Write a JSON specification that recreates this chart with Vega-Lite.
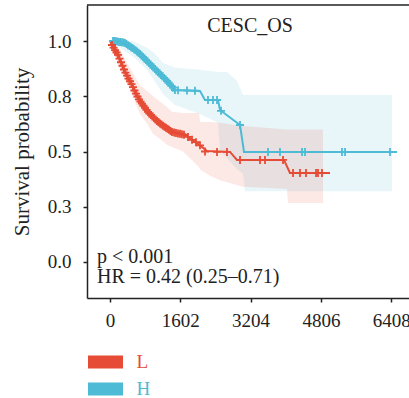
{
  "$schema": "https://vega.github.io/schema/vega-lite/v6.json",
  "width": 322,
  "height": 293,
  "autosize": {"type": "none"},
  "padding": {"left": 87, "top": 5, "right": 0, "bottom": 100},
  "background": "white",
  "config": {
    "font": "Liberation Serif",
    "view": {"stroke": null},
    "axis": {
      "domainColor": "#222", "domainWidth": 1.5, "tickColor": "#222", "tickWidth": 1.5, "tickSize": 4,
      "labelFont": "Liberation Serif", "labelFontSize": 19, "labelColor": "#222",
      "titleFont": "Liberation Serif", "titleFontSize": 21, "titleFontWeight": "normal", "titleColor": "#222",
      "grid": false
    }
  },
  "datasets": {
    "band": [
      {"g": "H", "t": 0, "s": 1, "s2": 1},
      {"g": "H", "t": 524, "s": 0.93, "s2": 1},
      {"g": "H", "t": 843, "s": 0.87, "s2": 0.97},
      {"g": "H", "t": 980, "s": 0.83, "s2": 0.95},
      {"g": "H", "t": 1208, "s": 0.76, "s2": 0.9},
      {"g": "H", "t": 1481, "s": 0.71, "s2": 0.88},
      {"g": "H", "t": 2051, "s": 0.67, "s2": 0.87},
      {"g": "H", "t": 2461, "s": 0.63, "s2": 0.86},
      {"g": "H", "t": 2507, "s": 0.5, "s2": 0.86},
      {"g": "H", "t": 2666, "s": 0.47, "s2": 0.86},
      {"g": "H", "t": 2894, "s": 0.42, "s2": 0.82},
      {"g": "H", "t": 3031, "s": 0.4, "s2": 0.756},
      {"g": "H", "t": 3077, "s": 0.32, "s2": 0.756},
      {"g": "H", "t": 6427, "s": 0.32, "s2": 0.756},
      {"g": "L", "t": 0, "s": 1, "s2": 1},
      {"g": "L", "t": 228, "s": 0.87, "s2": 0.96},
      {"g": "L", "t": 387, "s": 0.81, "s2": 0.9},
      {"g": "L", "t": 684, "s": 0.67, "s2": 0.8},
      {"g": "L", "t": 866, "s": 0.62, "s2": 0.77},
      {"g": "L", "t": 980, "s": 0.58, "s2": 0.75},
      {"g": "L", "t": 1185, "s": 0.55, "s2": 0.72},
      {"g": "L", "t": 1299, "s": 0.53, "s2": 0.7},
      {"g": "L", "t": 1413, "s": 0.52, "s2": 0.68},
      {"g": "L", "t": 1664, "s": 0.5, "s2": 0.674},
      {"g": "L", "t": 1823, "s": 0.47, "s2": 0.674},
      {"g": "L", "t": 2028, "s": 0.43, "s2": 0.674},
      {"g": "L", "t": 2051, "s": 0.42, "s2": 0.633},
      {"g": "L", "t": 2279, "s": 0.39, "s2": 0.633},
      {"g": "L", "t": 2507, "s": 0.37, "s2": 0.63},
      {"g": "L", "t": 3031, "s": 0.34, "s2": 0.615},
      {"g": "L", "t": 4034, "s": 0.33, "s2": 0.6},
      {"g": "L", "t": 4057, "s": 0.267, "s2": 0.6},
      {"g": "L", "t": 4854, "s": 0.267, "s2": 0.6}
    ],
    "curve": [
      {"g": "L", "t": 0, "s": 1.0},
      {"g": "L", "t": 46, "s": 0.982},
      {"g": "L", "t": 182, "s": 0.937},
      {"g": "L", "t": 342, "s": 0.86},
      {"g": "L", "t": 501, "s": 0.801},
      {"g": "L", "t": 638, "s": 0.742},
      {"g": "L", "t": 866, "s": 0.679},
      {"g": "L", "t": 1094, "s": 0.633},
      {"g": "L", "t": 1413, "s": 0.588},
      {"g": "L", "t": 1709, "s": 0.575},
      {"g": "L", "t": 1983, "s": 0.538},
      {"g": "L", "t": 2211, "s": 0.502},
      {"g": "L", "t": 2735, "s": 0.498},
      {"g": "L", "t": 2894, "s": 0.462},
      {"g": "L", "t": 3965, "s": 0.462},
      {"g": "L", "t": 4102, "s": 0.403},
      {"g": "L", "t": 5014, "s": 0.403},
      {"g": "H", "t": 0, "s": 1.0},
      {"g": "H", "t": 114, "s": 1.0},
      {"g": "H", "t": 342, "s": 0.991},
      {"g": "H", "t": 638, "s": 0.95},
      {"g": "H", "t": 866, "s": 0.905},
      {"g": "H", "t": 1094, "s": 0.86},
      {"g": "H", "t": 1322, "s": 0.814},
      {"g": "H", "t": 1481, "s": 0.778},
      {"g": "H", "t": 2051, "s": 0.774},
      {"g": "H", "t": 2165, "s": 0.733},
      {"g": "H", "t": 2461, "s": 0.733},
      {"g": "H", "t": 2507, "s": 0.688},
      {"g": "H", "t": 2963, "s": 0.62},
      {"g": "H", "t": 3054, "s": 0.498},
      {"g": "H", "t": 6541, "s": 0.498}
    ],
    "censor": [
      {"g": "H", "t": 68, "s": 1.0}, {"g": "H", "t": 103, "s": 1.0}, {"g": "H", "t": 137, "s": 0.999}, {"g": "H", "t": 171, "s": 0.998}, {"g": "H", "t": 205, "s": 0.996},
      {"g": "H", "t": 239, "s": 0.995}, {"g": "H", "t": 273, "s": 0.994}, {"g": "H", "t": 308, "s": 0.993}, {"g": "H", "t": 342, "s": 0.991}, {"g": "H", "t": 376, "s": 0.986}, {"g": "H", "t": 410, "s": 0.981},
      {"g": "H", "t": 445, "s": 0.977}, {"g": "H", "t": 479, "s": 0.972}, {"g": "H", "t": 513, "s": 0.968}, {"g": "H", "t": 547, "s": 0.963}, {"g": "H", "t": 581, "s": 0.958}, {"g": "H", "t": 615, "s": 0.953},
      {"g": "H", "t": 650, "s": 0.947}, {"g": "H", "t": 684, "s": 0.941}, {"g": "H", "t": 718, "s": 0.935}, {"g": "H", "t": 752, "s": 0.928}, {"g": "H", "t": 786, "s": 0.921}, {"g": "H", "t": 820, "s": 0.914},
      {"g": "H", "t": 855, "s": 0.907}, {"g": "H", "t": 889, "s": 0.9}, {"g": "H", "t": 923, "s": 0.894}, {"g": "H", "t": 957, "s": 0.887}, {"g": "H", "t": 991, "s": 0.88}, {"g": "H", "t": 1026, "s": 0.873},
      {"g": "H", "t": 1060, "s": 0.867}, {"g": "H", "t": 1094, "s": 0.86}, {"g": "H", "t": 1128, "s": 0.853}, {"g": "H", "t": 1162, "s": 0.846}, {"g": "H", "t": 1197, "s": 0.84}, {"g": "H", "t": 1231, "s": 0.833},
      {"g": "H", "t": 1265, "s": 0.826}, {"g": "H", "t": 1299, "s": 0.819}, {"g": "H", "t": 1333, "s": 0.812}, {"g": "H", "t": 1367, "s": 0.804}, {"g": "H", "t": 1400, "s": 0.797}, {"g": "H", "t": 1436, "s": 0.789},
      {"g": "H", "t": 1481, "s": 0.778}, {"g": "H", "t": 1550, "s": 0.777}, {"g": "H", "t": 1755, "s": 0.776},
      {"g": "H", "t": 1937, "s": 0.775}, {"g": "H", "t": 2233, "s": 0.733}, {"g": "H", "t": 2347, "s": 0.733},
      {"g": "H", "t": 2439, "s": 0.733}, {"g": "H", "t": 2530, "s": 0.684}, {"g": "H", "t": 2963, "s": 0.62},
      {"g": "H", "t": 3601, "s": 0.498}, {"g": "H", "t": 3874, "s": 0.498}, {"g": "H", "t": 4376, "s": 0.498},
      {"g": "H", "t": 4444, "s": 0.498}, {"g": "H", "t": 5287, "s": 0.498}, {"g": "H", "t": 5356, "s": 0.498},
      {"g": "H", "t": 6381, "s": 0.498},
      {"g": "L", "t": 46, "s": 0.982}, {"g": "L", "t": 80, "s": 0.97}, {"g": "L", "t": 114, "s": 0.959}, {"g": "L", "t": 148, "s": 0.948}, {"g": "L", "t": 182, "s": 0.937},
      {"g": "L", "t": 216, "s": 0.92}, {"g": "L", "t": 251, "s": 0.904}, {"g": "L", "t": 285, "s": 0.888}, {"g": "L", "t": 319, "s": 0.871}, {"g": "L", "t": 353, "s": 0.857}, {"g": "L", "t": 387, "s": 0.843},
      {"g": "L", "t": 421, "s": 0.83}, {"g": "L", "t": 456, "s": 0.818}, {"g": "L", "t": 490, "s": 0.805}, {"g": "L", "t": 524, "s": 0.791}, {"g": "L", "t": 558, "s": 0.776}, {"g": "L", "t": 593, "s": 0.762},
      {"g": "L", "t": 627, "s": 0.749}, {"g": "L", "t": 661, "s": 0.736}, {"g": "L", "t": 695, "s": 0.726}, {"g": "L", "t": 729, "s": 0.717}, {"g": "L", "t": 763, "s": 0.707}, {"g": "L", "t": 798, "s": 0.698},
      {"g": "L", "t": 832, "s": 0.688}, {"g": "L", "t": 866, "s": 0.679}, {"g": "L", "t": 900, "s": 0.672}, {"g": "L", "t": 934, "s": 0.665}, {"g": "L", "t": 968, "s": 0.658}, {"g": "L", "t": 1003, "s": 0.652},
      {"g": "L", "t": 1037, "s": 0.645}, {"g": "L", "t": 1071, "s": 0.638}, {"g": "L", "t": 1105, "s": 0.632}, {"g": "L", "t": 1140, "s": 0.627}, {"g": "L", "t": 1174, "s": 0.622}, {"g": "L", "t": 1208, "s": 0.617},
      {"g": "L", "t": 1242, "s": 0.612}, {"g": "L", "t": 1276, "s": 0.608}, {"g": "L", "t": 1310, "s": 0.603}, {"g": "L", "t": 1345, "s": 0.598}, {"g": "L", "t": 1379, "s": 0.593}, {"g": "L", "t": 1413, "s": 0.588},
      {"g": "L", "t": 1460, "s": 0.586}, {"g": "L", "t": 1504, "s": 0.584}, {"g": "L", "t": 1550, "s": 0.582}, {"g": "L", "t": 1595, "s": 0.58}, {"g": "L", "t": 1640, "s": 0.578}, {"g": "L", "t": 1686, "s": 0.576},
      {"g": "L", "t": 1778, "s": 0.566}, {"g": "L", "t": 1869, "s": 0.553}, {"g": "L", "t": 1960, "s": 0.542},
      {"g": "L", "t": 2051, "s": 0.528}, {"g": "L", "t": 2165, "s": 0.5}, {"g": "L", "t": 2439, "s": 0.498},
      {"g": "L", "t": 2666, "s": 0.498}, {"g": "L", "t": 2963, "s": 0.462}, {"g": "L", "t": 3419, "s": 0.462},
      {"g": "L", "t": 3532, "s": 0.462}, {"g": "L", "t": 3943, "s": 0.462}, {"g": "L", "t": 4171, "s": 0.403},
      {"g": "L", "t": 4330, "s": 0.403}, {"g": "L", "t": 4467, "s": 0.403}, {"g": "L", "t": 4695, "s": 0.403},
      {"g": "L", "t": 4740, "s": 0.403}, {"g": "L", "t": 4831, "s": 0.403}
    ],
    "notesLeft": [
      {"t": -296, "s": -0.005, "label": "p < 0.001"},
      {"t": -296, "s": -0.095, "label": "HR = 0.42 (0.25–0.71)"}
    ],
    "notesTitle": [
      {"t": 3191, "s": 1.042, "label": "CESC_OS"}
    ],
    "border": [
      {"t": -524, "t2": 6814, "s": 1.163}
    ]
  },
  "encoding": {
    "x": {
      "field": "t", "type": "quantitative",
      "scale": {"domain": [-524, 6814], "nice": false, "zero": false},
      "axis": {"values": [0, 1602, 3204, 4806, 6408], "title": null, "labelPadding": 9, "format": "d"}
    },
    "y": {
      "field": "s", "type": "quantitative",
      "scale": {"domain": [-0.163, 1.163], "nice": false, "zero": false},
      "axis": {"values": [0, 0.25, 0.5, 0.75, 1], "format": ".1f", "title": "Survival probability", "labelPadding": 12, "titlePadding": 15}
    },
    "color": {
      "field": "g", "type": "nominal",
      "scale": {"domain": ["L", "H"], "range": ["#E64B35", "#4DBBD5"]},
      "legend": {
        "orient": "none", "legendX": 4.5, "legendY": 343, "title": null,
        "symbolType": "M-1.25,-0.464H1.25V0.464H-1.25Z", "symbolSize": 784, "symbolStrokeWidth": 0,
        "symbolOpacity": 1,
        "labelFont": "Liberation Serif", "labelFontSize": 19, "labelOffset": 17, "rowPadding": 3, "padding": 0,
        "encode": {
          "symbols": {"update": {"fill": {"scale": "color", "field": "value"}, "fillOpacity": {"value": 1}, "opacity": {"value": 1}, "stroke": {"value": "transparent"}, "strokeWidth": {"value": 0}}},
          "labels": {"update": {"fill": {"scale": "color", "field": "value"}}}
        }
      }
    }
  },
  "layer": [
    {
      "data": {"name": "band"},
      "mark": {"type": "area", "fillOpacity": 0.13},
      "encoding": {"y2": {"field": "s2"}}
    },
    {
      "data": {"name": "curve"},
      "mark": {"type": "line", "strokeWidth": 2}
    },
    {
      "data": {"name": "censor"},
      "mark": {"type": "point", "shape": "M-1,0H1M0,-1V1", "size": 64, "filled": false, "strokeWidth": 1.8, "opacity": 1}
    },
    {
      "data": {"name": "notesLeft"},
      "mark": {"type": "text", "align": "left", "baseline": "alphabetic", "font": "Liberation Serif", "fontSize": 20},
      "encoding": {"text": {"field": "label"}, "color": {"value": "#222"}}
    },
    {
      "data": {"name": "notesTitle"},
      "mark": {"type": "text", "align": "center", "baseline": "alphabetic", "font": "Liberation Serif", "fontSize": 20},
      "encoding": {"text": {"field": "label"}, "color": {"value": "#222"}}
    },
    {
      "data": {"name": "border"},
      "mark": {"type": "rule", "strokeWidth": 1.5},
      "encoding": {"x2": {"field": "t2"}, "color": {"value": "#222"}}
    }
  ]
}
